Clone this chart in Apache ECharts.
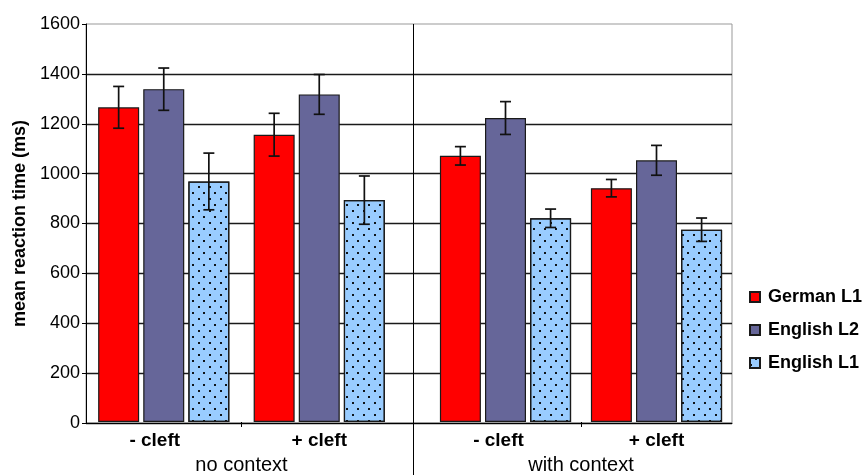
<!DOCTYPE html>
<html>
<head>
<meta charset="utf-8">
<script src="https://cdn.jsdelivr.net/npm/echarts@6/dist/echarts.min.js"></script>
<style>
  html, body { margin: 0; padding: 0; background: #fff; }
  #chart { width: 868px; height: 475px; }
</style>
</head>
<body>
<div id="chart"></div>
<script>
// Conditions and groups
const clefts = ['- cleft', '+ cleft'];
const contexts = ['no context', 'with context'];
const groupNames = ['German L1', 'English L2', 'English L1'];

// Mean reaction times (ms): [no ctx -cleft, no ctx +cleft, with ctx -cleft, with ctx +cleft]
const germanL1 = [1265, 1155, 1070, 940];
const englishL2 = [1338, 1317, 1222, 1052];
const englishL1 = [967, 892, 819, 773];

// Error bar half-lengths (ms)
const germanL1Err = [84, 86, 37, 35];
const englishL2Err = [85, 80, 66, 60];
const englishL1Err = [114, 97, 37, 47];

// Value axis ticks
const yMin = 0, yMax = 1600, yStep = 200;

const values = [germanL1, englishL2, englishL1];
const errors = [germanL1Err, englishL2Err, englishL1Err];
const colors = ['#FF0000', '#666699', '#99CCFF'];

const FONT = '"Liberation Sans", Arial, sans-serif';
const plot = { left: 86, right: 732, top: 24, bottom: 423 };
const panels = [{ left: 86, right: 397 }, { left: 430, right: 732 }];
const BAR_W = 41, BAR_GAP = '10%';

const dotted = {
  symbol: 'rect',
  symbolSize: 1,
  color: 'rgba(0,0,0,0.9)',
  dashArrayX: [[1.5, 8.5], [0, 5, 1.5, 3.5]],
  dashArrayY: [1.5, 3.5],
  rotation: 0
};

const chart = echarts.init(document.getElementById('chart'), null, { renderer: 'canvas' });

const grids = [{
  left: plot.left, top: plot.top,
  width: plot.right - plot.left, height: plot.bottom - plot.top,
  show: true, borderColor: '#999', borderWidth: 1, backgroundColor: 'transparent'
}];
panels.forEach(p => grids.push({
  left: p.left, top: plot.top, width: p.right - p.left, height: plot.bottom - plot.top
}));

const xAxes = [{
  gridIndex: 0, type: 'value', min: 0, max: 1,
  axisLine: { show: true, lineStyle: { color: '#000', width: 1 } },
  axisTick: { show: false }, axisLabel: { show: false }, splitLine: { show: false }
}];
const yAxes = [{
  gridIndex: 0, type: 'value', min: yMin, max: yMax, interval: yStep,
  name: 'mean reaction time (ms)', nameLocation: 'middle', nameGap: 56,
  nameTextStyle: { fontFamily: FONT, fontSize: 18, fontWeight: 'bold', color: '#000' },
  axisLine: { show: true, lineStyle: { color: '#000', width: 1 } },
  axisTick: { show: true, length: 4, lineStyle: { color: '#000' } },
  axisLabel: { fontFamily: FONT, fontSize: 18, color: '#000', margin: 6, formatter: v => String(v) },
  splitLine: { show: true, showMaxLine: false, lineStyle: { color: '#1a1a1a', width: 1.4 } }
}];

const series = [];
panels.forEach((p, pi) => {
  const g = pi + 1;
  // context axis: carries the group label and the tick between conditions
  xAxes.push({
    gridIndex: g, type: 'category', data: [contexts[pi]], position: 'bottom',
    axisLine: { show: false },
    axisTick: { show: true, alignWithLabel: true, length: 5, lineStyle: { color: '#000', width: 1 } },
    axisLabel: { fontFamily: FONT, fontSize: 20, color: '#000', margin: 33 }
  });
  // condition axis: the bars live here
  const shift = pi === 0 ? 18 : 14;
  xAxes.push({
    gridIndex: g, type: 'category', data: clefts, position: 'bottom',
    axisLine: { show: false }, axisTick: { show: false },
    axisLabel: {
      margin: 9,
      formatter: v => (v.charAt(0) === '-' ? '{m|' + v + '}' : '{p|' + v + '}'),
      rich: {
        m: { fontFamily: FONT, fontSize: 19, fontWeight: 'bold', color: '#000', padding: [0, shift, 0, 0] },
        p: { fontFamily: FONT, fontSize: 19, fontWeight: 'bold', color: '#000' }
      }
    }
  });
  yAxes.push({ gridIndex: g, type: 'value', min: yMin, max: yMax, interval: yStep, show: false });

  const xi = xAxes.length - 1, yi = g;
  const idx = [pi * 2, pi * 2 + 1];
  groupNames.forEach((name, si) => {
    const itemStyle = { color: colors[si], borderColor: '#1a1a1a', borderWidth: 1.2 };
    if (si === 2) itemStyle.decal = dotted;
    series.push({
      name, type: 'bar', xAxisIndex: xi, yAxisIndex: yi,
      barWidth: BAR_W, barGap: BAR_GAP,
      data: idx.map(i => values[si][i]),
      itemStyle, emphasis: { disabled: true }, animation: false
    });
  });

  const errData = [];
  idx.forEach((i, ci) => groupNames.forEach((n, si) => {
    errData.push([ci, si, values[si][i], errors[si][i]]);
  }));
  series.push({
    type: 'custom', xAxisIndex: xi, yAxisIndex: yi, silent: true, z: 10, animation: false,
    encode: { x: 0, y: 2 },
    data: errData,
    renderItem: (params, api) => {
      const cat = api.value(0), si = api.value(1), v = api.value(2), e = api.value(3);
      let off;
      if (api.barLayout) {
        off = api.barLayout({ count: 3, barWidth: BAR_W, barGap: BAR_GAP })[si].offsetCenter;
      } else {
        off = (si - 1) * BAR_W * 1.1;
      }
      const x = api.coord([cat, v])[0] + off;
      const yTop = api.coord([cat, v + e])[1];
      const yBot = api.coord([cat, v - e])[1];
      const cap = 5.5;
      const st = { stroke: '#111', lineWidth: 1.7 };
      return {
        type: 'group',
        children: [
          { type: 'line', shape: { x1: x, y1: yTop, x2: x, y2: yBot }, style: st },
          { type: 'line', shape: { x1: x - cap, y1: yTop, x2: x + cap, y2: yTop }, style: st },
          { type: 'line', shape: { x1: x - cap, y1: yBot, x2: x + cap, y2: yBot }, style: st }
        ]
      };
    }
  });
});

const divX = (panels[0].right + panels[1].left) / 2;

chart.setOption({
  animation: false,
  textStyle: { fontFamily: FONT },
  grid: grids,
  xAxis: xAxes,
  yAxis: yAxes,
  legend: {
    orient: 'vertical', left: 744, top: 282,
    itemWidth: 10, itemHeight: 10, itemGap: 13, icon: 'rect',
    data: groupNames,
    textStyle: { fontFamily: FONT, fontSize: 18, fontWeight: 'bold', color: '#000', lineHeight: 20, padding: [0, 0, 0, 3] }
  },
  graphic: [{
    type: 'line', silent: true, z: 100,
    shape: { x1: divX, y1: plot.top, x2: divX, y2: 475 },
    style: { stroke: '#000', lineWidth: 1 }
  }],
  series
});
</script>
</body>
</html>
